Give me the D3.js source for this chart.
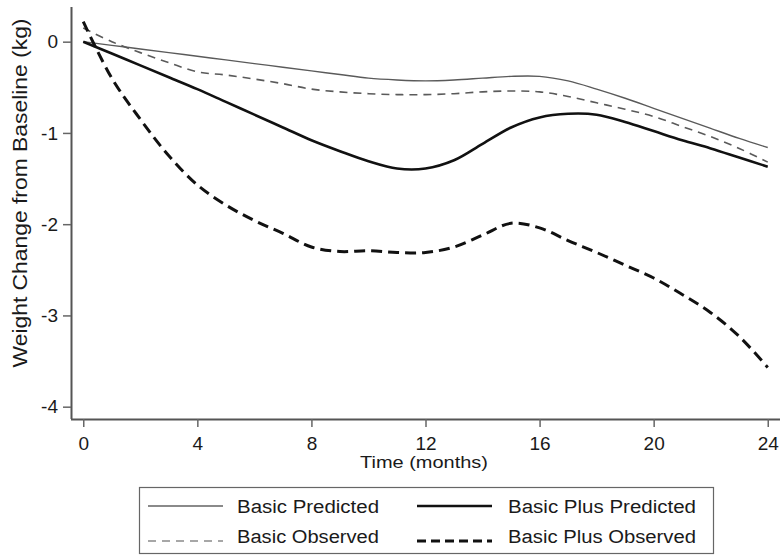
<!DOCTYPE html>
<html><head><meta charset="utf-8">
<script src="https://cdn.jsdelivr.net/npm/d3@7"></script>
<style>
html,body{margin:0;padding:0;background:#fff;}
text{font-family:"Liberation Sans",Arial,sans-serif;fill:#1a1a1a;}
</style></head>
<body>
<svg id="chart" width="783" height="557"></svg>
<script>
// ---- data ----
const months = [0,1,2,3,4,5,6,7,8,9,10,11,12,13,14,15,16,17,18,19,20,21,22,23,24];
const basicPredicted     = [0,-0.04,-0.08,-0.12,-0.16,-0.20,-0.24,-0.28,-0.32,-0.36,-0.40,-0.42,-0.43,-0.42,-0.40,-0.38,-0.38,-0.43,-0.52,-0.62,-0.73,-0.84,-0.95,-1.06,-1.16];
const basicObserved      = [0.15,0.0,-0.12,-0.23,-0.33,-0.365,-0.41,-0.46,-0.52,-0.55,-0.57,-0.58,-0.58,-0.57,-0.55,-0.54,-0.55,-0.60,-0.67,-0.74,-0.82,-0.93,-1.04,-1.17,-1.32];
const basicPlusPredicted = [0,-0.13,-0.26,-0.39,-0.52,-0.66,-0.80,-0.94,-1.08,-1.20,-1.31,-1.39,-1.39,-1.30,-1.12,-0.94,-0.83,-0.79,-0.80,-0.88,-0.98,-1.08,-1.17,-1.27,-1.37];
const basicPlusObserved  = [0.22,-0.40,-0.85,-1.25,-1.57,-1.79,-1.96,-2.10,-2.25,-2.30,-2.29,-2.31,-2.31,-2.25,-2.12,-1.99,-2.04,-2.18,-2.31,-2.45,-2.59,-2.77,-2.97,-3.23,-3.57];
const xTicks = [0,4,8,12,16,20,24];
const yTicks = [0,-1,-2,-3,-4];
const seriesNames = ["Basic Predicted","Basic Plus Predicted","Basic Observed","Basic Plus Observed"];
const xTitle = "Time (months)";
const yTitle = "Weight Change from Baseline (kg)";

// ---- layout ----
const svg = d3.select("#chart");
const x = d3.scaleLinear().domain([-0.43, 24.43]).range([71, 780]);
const y = d3.scaleLinear().domain([0.38, -4.135]).range([7, 419]);

const styles = {
  "Basic Predicted":      {color:"#5a5a5a", width:1.4, dash:null, legendColor:"#8a8a8a", legendWidth:1.8, legendDash:null},
  "Basic Observed":       {color:"#5a5a5a", width:1.6, dash:"8,6", legendColor:"#8a8a8a", legendWidth:1.6, legendDash:"8,6"},
  "Basic Plus Predicted": {color:"#111", width:2.6, dash:null, legendColor:"#111", legendWidth:2.6, legendDash:null},
  "Basic Plus Observed":  {color:"#111", width:3, dash:"11,6", legendColor:"#111", legendWidth:3, legendDash:"9,5"}
};
const dataMap = {
  "Basic Predicted": basicPredicted,
  "Basic Observed": basicObserved,
  "Basic Plus Predicted": basicPlusPredicted,
  "Basic Plus Observed": basicPlusObserved
};

// axes
const axisColor = "#555";
const gx = svg.append("g").attr("transform","translate(0,419)")
  .call(d3.axisBottom(x).tickValues(xTicks).tickSize(8).tickPadding(10).tickFormat(d3.format("d")));
const gy = svg.append("g").attr("transform","translate(71,0)")
  .call(d3.axisLeft(y).tickValues(yTicks).tickSize(8).tickPadding(5).tickFormat(d => d===0?"0":"-"+Math.abs(d)));
[gx,gy].forEach(g=>{
  g.select(".domain").attr("stroke",axisColor).attr("stroke-width",2);
  g.selectAll(".tick line").attr("stroke","#666").attr("stroke-width",1.5);
  g.selectAll(".tick text").attr("font-size",19).attr("fill","#1a1a1a").attr("font-family","Liberation Sans, Arial, sans-serif");
});
gx.select(".domain").attr("d","M71,0.5H780");
gy.select(".domain").attr("d","M0.5,7V419");

// titles
svg.append("text").attr("x",424).attr("y",468).attr("text-anchor","middle")
  .attr("font-size",17).attr("textLength",128).attr("lengthAdjust","spacingAndGlyphs").text(xTitle);
svg.append("text").attr("transform","translate(27,193) rotate(-90)").attr("text-anchor","middle")
  .attr("font-size",20).attr("textLength",349).attr("lengthAdjust","spacingAndGlyphs").text(yTitle);

// lines
const line = d3.line().x((d,i)=>x(months[i])).y(d=>y(d)).curve(d3.curveCatmullRom.alpha(0.5));
["Basic Predicted","Basic Observed","Basic Plus Predicted","Basic Plus Observed"].forEach(name=>{
  const s = styles[name];
  svg.append("path").datum(dataMap[name]).attr("d",line)
    .attr("fill","none").attr("stroke",s.color).attr("stroke-width",s.width)
    .attr("stroke-dasharray",s.dash).attr("stroke-linejoin","round");
});

// legend
const lg = svg.append("g");
lg.append("rect").attr("x",139.5).attr("y",487.5).attr("width",574).attr("height",66)
  .attr("fill","#fff").attr("stroke","#666").attr("stroke-width",1.2);
const legendPos = [
  {name:"Basic Predicted", sx:148, tx:237, ly:506, ty:513, tw:142},
  {name:"Basic Plus Predicted", sx:417, tx:508, ly:506, ty:513, tw:188},
  {name:"Basic Observed", sx:148, tx:237, ly:541, ty:543, tw:142},
  {name:"Basic Plus Observed", sx:417, tx:508, ly:541, ty:543, tw:188}
];
legendPos.forEach(p=>{
  const s = styles[p.name];
  lg.append("line").attr("x1",p.sx).attr("x2",p.sx+75).attr("y1",p.ly).attr("y2",p.ly)
    .attr("stroke",s.legendColor).attr("stroke-width",s.legendWidth)
    .attr("stroke-dasharray",s.legendDash);
  lg.append("text").attr("x",p.tx).attr("y",p.ty).attr("font-size",18)
    .attr("textLength",p.tw).attr("lengthAdjust","spacingAndGlyphs").text(p.name);
});
</script>
</body></html>
